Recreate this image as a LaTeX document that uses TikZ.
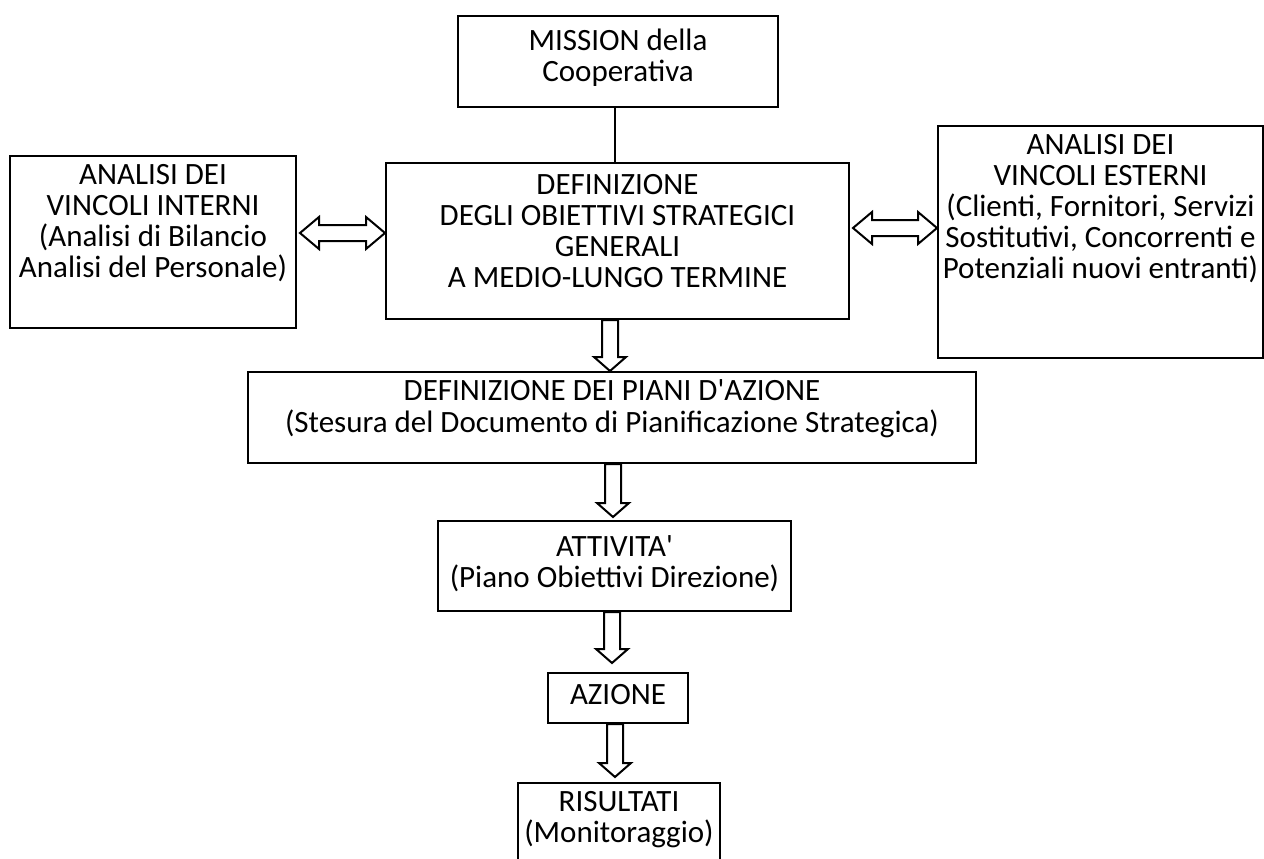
\documentclass[tikz,border=0pt]{standalone}
\usepackage{fontspec}
\setmainfont{Carlito}
\usetikzlibrary{calc}
\newcommand\mybox[4]{\parbox[t][#2pt][t]{#1pt}{\centering\rule{0pt}{#3pt}#4}}
\newcommand\blkdown[4]{%
  \draw[blk] let \p1=(#2.south), \p2=(#3.north) in
    ({#1pt-8pt},\y1) -- ({#1pt-8pt},{\y2+#4pt+14pt}) -- ({#1pt-16pt},{\y2+#4pt+14pt})
    -- ({#1pt},{\y2+#4pt}) -- ({#1pt+16pt},{\y2+#4pt+14pt}) -- ({#1pt+8pt},{\y2+#4pt+14pt})
    -- ({#1pt+8pt},\y1) -- cycle;}
\newcommand\blkboth[3]{%
  \draw[blk] let \p1=(#1.east), \p2=(#2.west) in
    ({\x1+3pt},{-#3pt}) -- ({\x1+22pt},{-#3pt+16pt}) -- ({\x1+22pt},{-#3pt+8pt})
    -- ({\x2-19pt},{-#3pt+8pt}) -- ({\x2-19pt},{-#3pt+16pt}) -- (\x2,{-#3pt})
    -- ({\x2-19pt},{-#3pt-16pt}) -- ({\x2-19pt},{-#3pt-8pt}) -- ({\x1+22pt},{-#3pt-8pt})
    -- ({\x1+22pt},{-#3pt-16pt}) -- cycle;}
\tikzset{
  boxnode/.style={draw=black, line width=2pt, inner sep=0pt, anchor=north west,
    font=\fontsize{31}{31}\selectfont},
  blk/.style={draw=black, fill=white, line width=2pt, line join=miter},
  conn/.style={draw=black, line width=2pt}
}
\begin{document}
\begin{tikzpicture}[x=1pt,y=-1pt]
\useasboundingbox (0,0) rectangle (1264,859);
\clip (0,0) rectangle (1264,859);
\fill[white] (0,0) rectangle (1264,859);
\node[boxnode] (mission) at (457,15) {\mybox{320}{91}{35}{MISSION della\\Cooperativa}};
\node[boxnode] (left) at (9,155) {\mybox{286}{172}{28}{ANALISI DEI\\VINCOLI INTERNI\\(Analisi di Bilancio\\Analisi del Personale)}};
\node[boxnode] (def) at (385,162) {\mybox{463}{156}{31}{DEFINIZIONE\\DEGLI OBIETTIVI STRATEGICI\\GENERALI\\A MEDIO-LUNGO TERMINE}};
\node[boxnode] (right) at (937,125) {\mybox{325}{232}{28}{ANALISI DEI\\VINCOLI ESTERNI\\(Clienti, Fornitori, Servizi\\Sostitutivi, Concorrenti e\\Potenziali nuovi entranti)}};
\node[boxnode] (piani) at (247,371) {\mybox{728}{91}{28}{DEFINIZIONE DEI PIANI D\textquotesingle AZIONE\\[1pt](Stesura del Documento di Pianificazione Strategica)}};
\node[boxnode] (att) at (437,520) {\mybox{353}{90}{35}{ATTIVITA\textquotesingle\\(Piano Obiettivi Direzione)}};
\node[boxnode] (az) at (547,672) {\mybox{140}{50}{31}{AZIONE}};
\node[boxnode] (ris) at (517,782) {\mybox{202}{110}{28}{RISULTATI\\(Monitoraggio)}};
\draw[conn] (mission.south -| 615,0) -- (def.north -| 615,0);
\blkboth{left}{def}{233}
\blkboth{def}{right}{228}
\blkdown{610}{def}{piani}{0}
\blkdown{613}{piani}{att}{3}
\blkdown{612}{att}{az}{9}
\blkdown{615}{az}{ris}{5}
\end{tikzpicture}
\end{document}
